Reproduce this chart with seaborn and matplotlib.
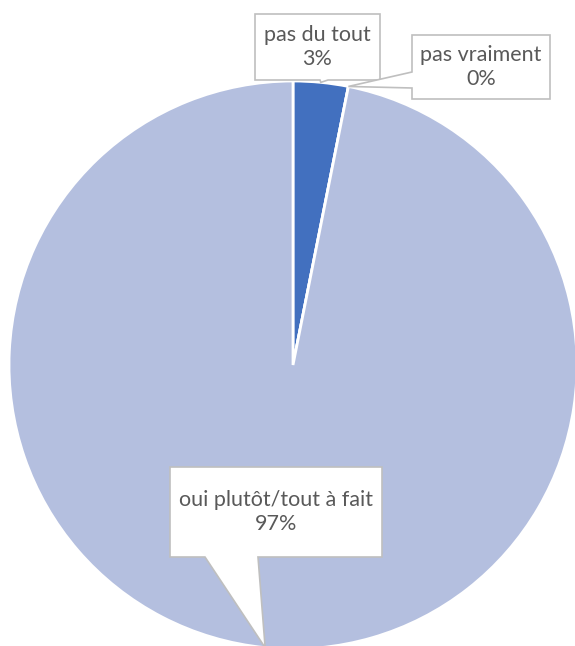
import numpy as np
import matplotlib
matplotlib.use("Agg")
import matplotlib.pyplot as plt
import seaborn as sns
from matplotlib.patches import Polygon

# data
labels = ["pas du tout", "pas vraiment", "oui plutôt/tout à fait"]
counts = [1, 0, 31]
pct_labels = ["3%", "0%", "97%"]
colors = ["#4270BF", "#4270BF", "#B4BFDF"]

sns.set_theme(style="white")
plt.rcParams['font.family'] = ['Lato', 'DejaVu Sans']

W, H = 575, 646
fig = plt.figure(figsize=(W / 100, H / 100), dpi=100)
cx, cy, R = 293, 365, 284
ax = fig.add_axes([(cx - R) / W, (H - cy - R) / H, 2 * R / W, 2 * R / H])

wedges, _ = ax.pie(counts, colors=colors, startangle=90, counterclock=False,
                   radius=1, wedgeprops=dict(edgecolor='white', linewidth=2))
for w in wedges:
    w.set_clip_on(False)
ax.set_xlim(-1, 1)
ax.set_ylim(-1, 1)
ax.set_aspect('equal')
ax.axis('off')


def px(x, y):
    return ((x - cx) / R, (cy - y) / R)


# callout boxes (pixel boxes), pointer base on a side
boxes = [
    dict(box=(255, 380, 14, 80), side='bottom', base=(320, 328)),
    dict(box=(412, 550, 35, 99), side='left', base=(72, 88)),
    dict(box=(170, 382, 467, 557), side='bottom', base=(205, 258)),
]

for w, lab, pc, b in zip(wedges, labels, pct_labels, boxes):
    mid = np.deg2rad((w.theta1 + w.theta2) / 2)
    tip = (np.cos(mid), np.sin(mid))
    x0, x1, y0, y1 = b['box']
    a, c = b['base']
    if b['side'] == 'bottom':
        pts = [px(x0, y0), px(x1, y0), px(x1, y1), px(c, y1), tip, px(a, y1), px(x0, y1)]
    else:
        pts = [px(x0, y0), px(x1, y0), px(x1, y1), px(x0, y1), px(x0, c), tip, px(x0, a)]
    poly = Polygon(pts, closed=True, facecolor='white', edgecolor='#BFBFBF',
                   linewidth=1.2, clip_on=False, zorder=5)
    ax.add_patch(poly)
    tx, ty = px((x0 + x1) / 2, (y0 + y1) / 2)
    ax.text(tx, ty, f"{lab}\n{pc}", ha='center', va='center', fontsize=15.5,
            color='#595959', zorder=6, clip_on=False, linespacing=1.2)

fig.savefig("out.png", dpi=100)
